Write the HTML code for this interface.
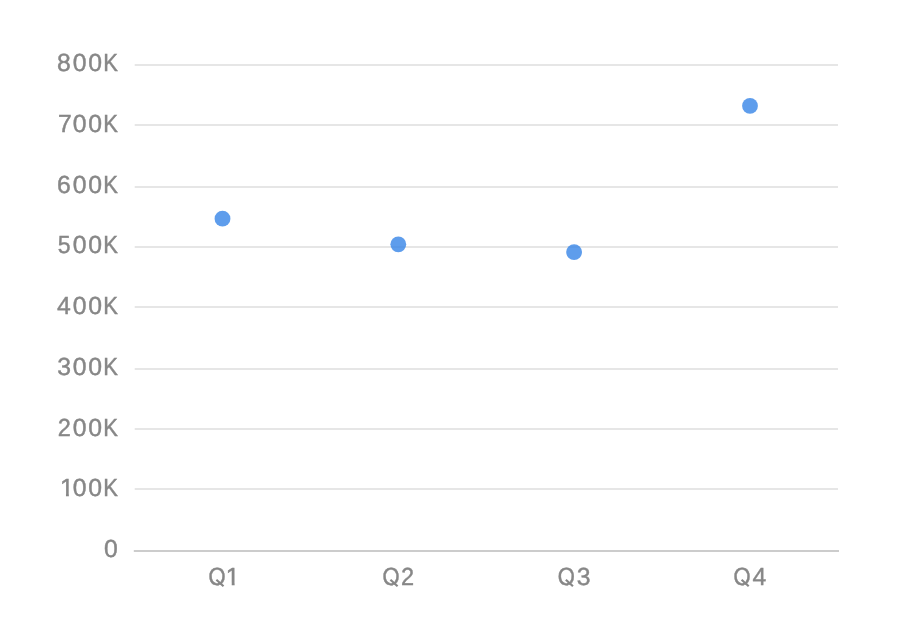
<!DOCTYPE html>
<html><head><meta charset="utf-8"><title>Chart</title>
<style>
html,body{margin:0;padding:0;background:#fff;}
body{width:900px;height:642px;overflow:hidden;font-family:"Liberation Sans",sans-serif;}
svg{display:block;will-change:transform;}
text{text-rendering:geometricPrecision;font-family:"Liberation Sans",sans-serif;font-size:24.75px;fill:#878787;stroke:#878787;stroke-width:0.45;}
</style></head><body>
<svg width="900" height="642" viewBox="0 0 900 642">

<rect x="134.7" y="64" width="703.3" height="2" fill="#e6e6e6"/>
<rect x="134.7" y="124" width="703.3" height="2" fill="#e6e6e6"/>
<rect x="134.7" y="186" width="703.3" height="2" fill="#e6e6e6"/>
<rect x="134.7" y="246" width="703.3" height="2" fill="#e6e6e6"/>
<rect x="134.7" y="306" width="703.3" height="2" fill="#e6e6e6"/>
<rect x="134.7" y="368" width="703.3" height="2" fill="#e6e6e6"/>
<rect x="134.7" y="428" width="703.3" height="2" fill="#e6e6e6"/>
<rect x="134.7" y="488" width="703.3" height="2" fill="#e6e6e6"/>
<rect x="133.8" y="550" width="705.2" height="2" fill="#cccccc"/>
<text y="71.00"><tspan x="57.12">8</tspan><tspan x="72.72">0</tspan><tspan x="88.37">0</tspan><tspan x="103.18" textLength="14.64" lengthAdjust="spacingAndGlyphs">K</tspan></text>
<text y="132.00"><tspan x="58.11">7</tspan><tspan x="72.72">0</tspan><tspan x="88.37">0</tspan><tspan x="103.18" textLength="14.64" lengthAdjust="spacingAndGlyphs">K</tspan></text>
<text y="193.00"><tspan x="56.98">6</tspan><tspan x="72.72">0</tspan><tspan x="88.37">0</tspan><tspan x="103.18" textLength="14.64" lengthAdjust="spacingAndGlyphs">K</tspan></text>
<text y="253.00"><tspan x="57.82" textLength="12.80" lengthAdjust="spacingAndGlyphs">5</tspan><tspan x="72.72">0</tspan><tspan x="88.37">0</tspan><tspan x="103.18" textLength="14.64" lengthAdjust="spacingAndGlyphs">K</tspan></text>
<text y="314.00"><tspan x="57.05">4</tspan><tspan x="72.72">0</tspan><tspan x="88.37">0</tspan><tspan x="103.18" textLength="14.64" lengthAdjust="spacingAndGlyphs">K</tspan></text>
<text y="375.00"><tspan x="57.24">3</tspan><tspan x="72.72">0</tspan><tspan x="88.37">0</tspan><tspan x="103.18" textLength="14.64" lengthAdjust="spacingAndGlyphs">K</tspan></text>
<text y="436.00"><tspan x="57.81" textLength="13.08" lengthAdjust="spacingAndGlyphs">2</tspan><tspan x="72.72">0</tspan><tspan x="88.37">0</tspan><tspan x="103.18" textLength="14.64" lengthAdjust="spacingAndGlyphs">K</tspan></text>
<text y="496.00"><tspan x="60.02">1</tspan><tspan x="72.72">0</tspan><tspan x="88.37">0</tspan><tspan x="103.18" textLength="14.64" lengthAdjust="spacingAndGlyphs">K</tspan></text>
<text y="557.00"><tspan x="104.12">0</tspan></text>
<text y="585"><tspan x="208.39" textLength="17.13" lengthAdjust="spacingAndGlyphs">Q</tspan><tspan x="225.77">1</tspan></text>
<text y="585"><tspan x="382.44" textLength="17.13" lengthAdjust="spacingAndGlyphs">Q</tspan><tspan x="401.01" textLength="13.08" lengthAdjust="spacingAndGlyphs">2</tspan></text>
<text y="585"><tspan x="557.84" textLength="17.13" lengthAdjust="spacingAndGlyphs">Q</tspan><tspan x="576.79">3</tspan></text>
<text y="585"><tspan x="733.59" textLength="17.13" lengthAdjust="spacingAndGlyphs">Q</tspan><tspan x="752.55">4</tspan></text>
<rect x="60.36" y="493.90" width="5.6" height="3.6" fill="#fff"/><rect x="68.86" y="493.90" width="4.6" height="3.6" fill="#fff"/>
<rect x="226.11" y="582.90" width="5.6" height="3.6" fill="#fff"/><rect x="234.61" y="582.90" width="4.6" height="3.6" fill="#fff"/>
<rect x="213.00" y="585.65" width="13" height="5.5" fill="#fff"/>
<line x1="216.40" y1="579.7" x2="223.50" y2="586.2" stroke="#878787" stroke-width="2.2"/>
<rect x="387.05" y="585.65" width="13" height="5.5" fill="#fff"/>
<line x1="390.45" y1="579.7" x2="397.55" y2="586.2" stroke="#878787" stroke-width="2.2"/>
<rect x="562.45" y="585.65" width="13" height="5.5" fill="#fff"/>
<line x1="565.85" y1="579.7" x2="572.95" y2="586.2" stroke="#878787" stroke-width="2.2"/>
<rect x="738.20" y="585.65" width="13" height="5.5" fill="#fff"/>
<line x1="741.60" y1="579.7" x2="748.70" y2="586.2" stroke="#878787" stroke-width="2.2"/>
<circle cx="222.5" cy="218.7" r="7.9" fill="#3685e7" fill-opacity="0.8"/>
<circle cx="398.3" cy="244.3" r="7.9" fill="#3685e7" fill-opacity="0.8"/>
<circle cx="574.1" cy="252.1" r="7.9" fill="#3685e7" fill-opacity="0.8"/>
<circle cx="750.0" cy="105.9" r="7.9" fill="#3685e7" fill-opacity="0.8"/>
</svg></body></html>
